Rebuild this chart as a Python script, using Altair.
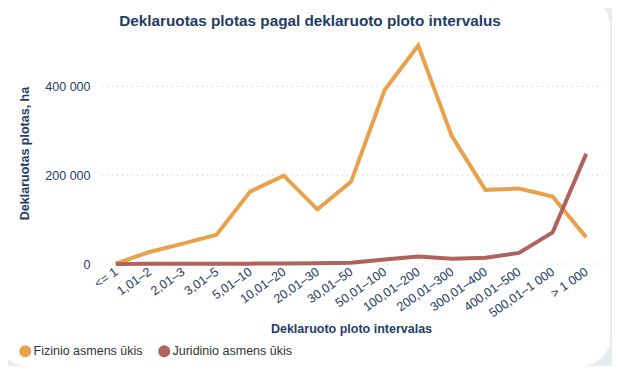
import altair as alt
import pandas as pd

categories = ["<= 1", "1,01–2", "2,01–3", "3,01–5", "5,01–10", "10,01–20", "20,01–30",
              "30,01–50", "50,01–100", "100,01–200", "200,01–300", "300,01–400",
              "400,01–500", "500,01–1 000", "> 1 000"]
fizinio = [1000, 27000, 46000, 66000, 163000, 199000, 123000, 185000, 392000, 492000,
           288000, 167000, 170000, 152000, 60000]
juridinio = [100, 300, 400, 500, 800, 1200, 1500, 3000, 10000, 17000, 12000, 14000,
             25000, 71000, 248000]
series_names = ["Fizinio asmens ūkis", "Juridinio asmens ūkis"]
series_colors = ["#E9A24B", "#B0625C"]
y_ticks = [0, 200000, 400000]
chart_title = "Deklaruotas plotas pagal deklaruoto ploto intervalus"

NAVY = "#1f3d64"
FONT = "Liberation Sans"

rows = []
for i, c in enumerate(categories):
    rows.append({"Intervalas": c, "Serija": series_names[0], "Plotas": fizinio[i], "idx": i})
    rows.append({"Intervalas": c, "Serija": series_names[1], "Plotas": juridinio[i], "idx": i})
df = pd.DataFrame(rows)

card = alt.Chart(pd.DataFrame({"a": [0]})).mark_rect(color="white", cornerRadius=28).encode(
    x=alt.value(-101), x2=alt.value(511), y=alt.value(-44), y2=alt.value(324)
)

title_mark = alt.Chart(pd.DataFrame({"t": [chart_title]})).mark_text(
    font=FONT, fontSize=15.3, fontWeight="bold", color=NAVY,
    align="center", baseline="alphabetic"
).encode(text="t:N", x=alt.value(211), y=alt.value(-16))

grid = alt.Chart(pd.DataFrame({"v": y_ticks})).mark_rule(
    strokeDash=[1, 4], color="#c3ccd8", strokeWidth=1
).encode(y=alt.Y("v:Q"))

lines = alt.Chart(df).mark_line(strokeWidth=4).encode(
    x=alt.X("Intervalas:N", sort=categories,
            scale=alt.Scale(type="point", padding=0.5),
            axis=alt.Axis(title="Deklaruoto ploto intervalas", labelAngle=-35,
                          labelAlign="right", labelBaseline="middle", labelPadding=6,
                          ticks=False, domain=False, grid=False, zindex=1,
                          titleY=68, titleBaseline="alphabetic")),
    y=alt.Y("Plotas:Q", scale=alt.Scale(domain=[0, 500000]),
            axis=alt.Axis(title="Deklaruotas plotas, ha", values=y_ticks,
                          labelExpr="replace(format(datum.value, ','), regexp(',', 'g'), ' ')",
                          ticks=False, domain=False, grid=False, labelPadding=9, zindex=1,
                          titleX=-75, titleY=111, titleAngle=-90,
                          titleAlign="center", titleBaseline="middle")),
    color=alt.Color("Serija:N", scale=alt.Scale(domain=series_names, range=series_colors),
                    legend=alt.Legend(title=None, orient="none", legendX=-80, legendY=303,
                                      direction="horizontal", symbolType="circle",
                                      symbolSize=36, symbolStrokeWidth=6,
                                      symbolOpacity=1, labelOffset=2, columnPadding=6,
                                      gridAlign="none", padding=0)),
    order=alt.Order("idx:Q"),
)

chart = alt.layer(card, title_mark, grid, lines).properties(
    width=504, height=222,
    background="#e8ecf1",
    padding={"left": 91, "top": 34, "right": 9, "bottom": 102},
    autosize="none",
).configure_view(strokeWidth=0).configure_axis(
    labelFont=FONT, labelFontSize=12.5, labelColor=NAVY,
    titleFont=FONT, titleFontSize=12.5, titleFontWeight="bold", titleColor=NAVY,
).configure_legend(
    labelFont=FONT, labelFontSize=12.5, labelColor="#333333",
)

chart.save("out.html", embed_options={"renderer": "svg", "actions": False})
